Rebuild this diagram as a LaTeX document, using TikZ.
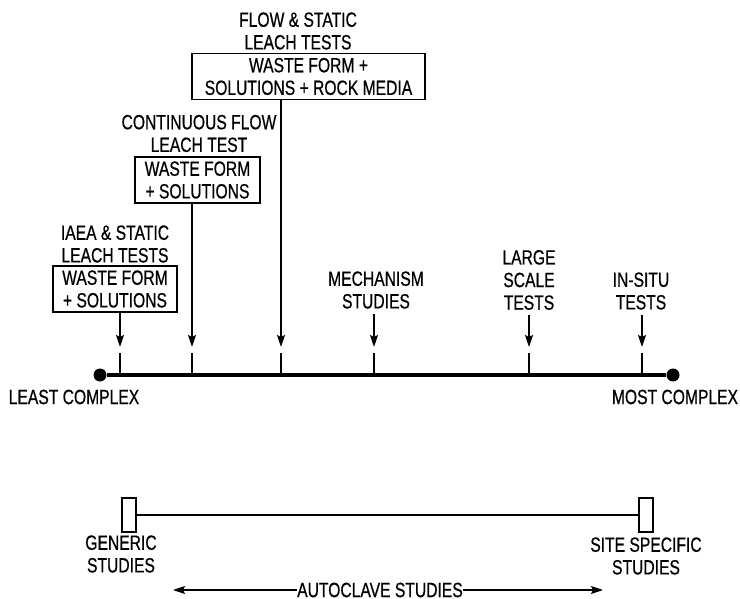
\documentclass[tikz,border=0pt]{standalone}
\usepackage{fontspec}
\setmainfont{Liberation Sans}[FakeStretch=0.76,FakeBold=0.6]
\usetikzlibrary{positioning,arrows.meta}

\begin{document}
\begin{tikzpicture}[x=0.5pt,y=-0.5pt,
 every node/.style={font=\fontsize{10.3}{11.3}\selectfont,inner sep=0pt,align=center},
 testbox/.style={draw,line width=0.8pt,minimum width=#1,minimum height=23pt},
 enddot/.style={circle,fill,minimum size=6.5pt},
 endbar/.style={draw,line width=0.8pt,minimum width=7pt,minimum height=17pt},
 pointer/.style={line width=0.9pt,-{Stealth[length=6pt,width=4pt,inset=1pt]}}]
 \useasboundingbox (0,0) rectangle (740,599);
 % complexity axis
 \node[enddot] (lo) at (100,375) {};
 \node[enddot] (hi) at (673,375) {};
 \draw[line width=2pt] (lo) -- (hi);
 \node (least) at (74,397) {LEAST COMPLEX};
 \node (most) at (675,397) {MOST COMPLEX};
 \foreach \x/\n in {120/1,192/2,281/3,374/4,529/5,642/6} {
  \coordinate (k\n) at (\x,347);
  \draw[line width=0.9pt] ([yshift=-3pt]k\n) -- (k\n |- lo);
 }
 % leach tests
 \node[testbox=62pt] (box1) at (115,289) {WASTE FORM\\+ SOLUTIONS};
 \node (iaea) at (115,244) {IAEA \& STATIC\\LEACH TESTS};
 \node[testbox=62.5pt] (box2) at (197.5,180) {WASTE FORM\\+ SOLUTIONS};
 \node (cont) at (199,133.5) {CONTINUOUS FLOW\\LEACH TEST};
 \node[testbox=116.5pt] (box3) at (308.5,76.5) {WASTE FORM +\\SOLUTIONS + ROCK MEDIA};
 \node (flow) at (298,31) {FLOW \& STATIC\\LEACH TESTS};
 \draw[pointer] (k1 |- box1.south) -- (k1);
 \draw[pointer] (k2 |- box2.south) -- (k2);
 \draw[pointer] (k3 |- box3.south) -- (k3);
 % other studies
 \node (mech) at (376,290) {MECHANISM\\STUDIES};
 \node (large) at (529,280) {LARGE\\SCALE\\TESTS};
 \node (insitu) at (641,291) {IN-SITU\\TESTS};
 \draw[pointer,shorten <=2.5pt] (k4 |- mech.south) -- (k4);
 \draw[pointer,shorten <=2.5pt] (k5 |- large.south) -- (k5);
 \draw[pointer,shorten <=2.5pt] (k6 |- insitu.south) -- (k6);
 % generic to site specific
 \node[endbar] (gen) at (129,515) {};
 \node[endbar] (site) at (646,515) {};
 \draw[line width=0.8pt] (gen) -- (site);
 \node (genlab) at (121,554) {GENERIC\\STUDIES};
 \node (sitelab) at (646,556) {SITE SPECIFIC\\STUDIES};
 \node (auto) at (380,590) {AUTOCLAVE STUDIES};
 \coordinate (al) at (173,590);
 \coordinate (ar) at (603,590);
 \draw[pointer,line width=0.7pt] (auto) -- (al);
 \draw[pointer,line width=0.7pt] (auto) -- (ar);
\end{tikzpicture}
\end{document}
